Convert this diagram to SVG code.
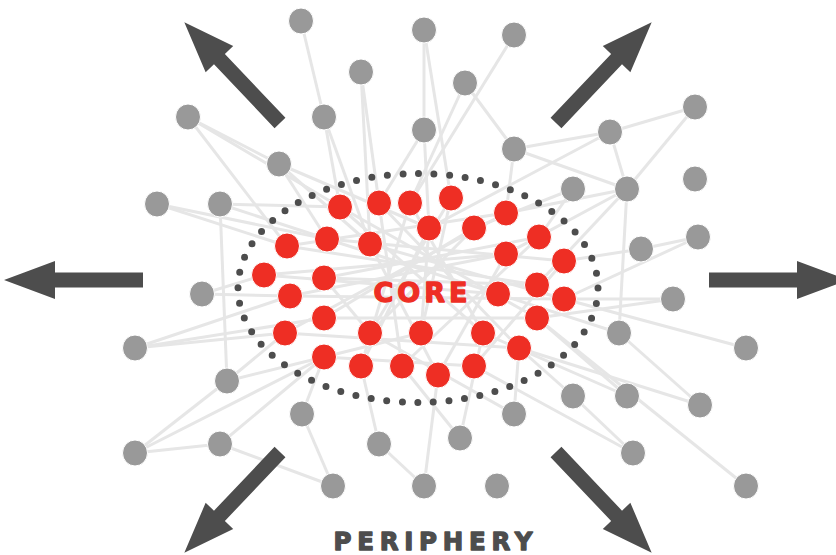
<svg xmlns="http://www.w3.org/2000/svg" xmlns:xlink="http://www.w3.org/1999/xlink" width="836" height="555" viewBox="0 0 836 555">
<style>
.e{stroke:#e6e6e6;stroke-width:3;fill:none}
.g{fill:#999999;stroke:#ffffff;stroke-width:1}
.r{fill:#ee2e24;stroke:#ffffff;stroke-width:1}
.arr{fill:#4d4d4d}
.lbl{font-family:"DejaVu Sans","Liberation Sans",Arial,sans-serif;font-weight:bold;stroke-width:1.3;stroke-linejoin:round}
</style>
<defs>
<path id="arrow" d="M0,-7.5 H88 V-19 L139,0 L88,19 V7.5 H0 Z"/>
</defs>
<rect width="836" height="555" fill="#ffffff"/>
<g id="connectors" class="e">
<line x1="301" y1="21" x2="324" y2="117"/>
<line x1="324" y1="117" x2="340" y2="207"/>
<line x1="324" y1="117" x2="370" y2="244"/>
<line x1="361" y1="72" x2="379" y2="203"/>
<line x1="361" y1="72" x2="370" y2="244"/>
<line x1="424" y1="30" x2="424" y2="130"/>
<line x1="424" y1="30" x2="451" y2="198"/>
<line x1="514" y1="35" x2="410" y2="203"/>
<line x1="465" y1="83" x2="410" y2="203"/>
<line x1="465" y1="83" x2="514" y2="149"/>
<line x1="424" y1="130" x2="429" y2="228"/>
<line x1="424" y1="130" x2="379" y2="203"/>
<line x1="514" y1="149" x2="610" y2="132"/>
<line x1="514" y1="149" x2="506" y2="213"/>
<line x1="610" y1="132" x2="695" y2="107"/>
<line x1="610" y1="132" x2="627" y2="189"/>
<line x1="695" y1="107" x2="627" y2="189"/>
<line x1="610" y1="132" x2="429" y2="228"/>
<line x1="627" y1="189" x2="514" y2="149"/>
<line x1="627" y1="189" x2="506" y2="254"/>
<line x1="627" y1="189" x2="619" y2="333"/>
<line x1="627" y1="189" x2="506" y2="213"/>
<line x1="627" y1="189" x2="537" y2="285"/>
<line x1="641" y1="249" x2="698" y2="237"/>
<line x1="641" y1="249" x2="564" y2="261"/>
<line x1="698" y1="237" x2="564" y2="299"/>
<line x1="573" y1="189" x2="539" y2="237"/>
<line x1="573" y1="189" x2="474" y2="228"/>
<line x1="188" y1="117" x2="279" y2="164"/>
<line x1="188" y1="117" x2="340" y2="207"/>
<line x1="188" y1="117" x2="287" y2="246"/>
<line x1="157" y1="204" x2="287" y2="246"/>
<line x1="157" y1="204" x2="327" y2="239"/>
<line x1="220" y1="204" x2="327" y2="239"/>
<line x1="220" y1="204" x2="340" y2="207"/>
<line x1="220" y1="204" x2="227" y2="381"/>
<line x1="279" y1="164" x2="327" y2="239"/>
<line x1="279" y1="164" x2="370" y2="244"/>
<line x1="279" y1="164" x2="429" y2="228"/>
<line x1="202" y1="294" x2="264" y2="275"/>
<line x1="202" y1="294" x2="290" y2="296"/>
<line x1="135" y1="348" x2="290" y2="296"/>
<line x1="135" y1="348" x2="324" y2="318"/>
<line x1="135" y1="348" x2="285" y2="333"/>
<line x1="227" y1="381" x2="324" y2="357"/>
<line x1="227" y1="381" x2="285" y2="333"/>
<line x1="135" y1="453" x2="227" y2="381"/>
<line x1="135" y1="453" x2="324" y2="357"/>
<line x1="135" y1="453" x2="220" y2="444"/>
<line x1="220" y1="444" x2="324" y2="357"/>
<line x1="220" y1="444" x2="333" y2="486"/>
<line x1="302" y1="414" x2="333" y2="486"/>
<line x1="302" y1="414" x2="324" y2="357"/>
<line x1="379" y1="444" x2="424" y2="486"/>
<line x1="379" y1="444" x2="361" y2="366"/>
<line x1="424" y1="486" x2="438" y2="375"/>
<line x1="460" y1="438" x2="402" y2="366"/>
<line x1="460" y1="438" x2="483" y2="333"/>
<line x1="514" y1="414" x2="519" y2="348"/>
<line x1="514" y1="414" x2="370" y2="333"/>
<line x1="673" y1="299" x2="564" y2="299"/>
<line x1="673" y1="299" x2="537" y2="318"/>
<line x1="619" y1="333" x2="700" y2="405"/>
<line x1="619" y1="333" x2="498" y2="294"/>
<line x1="537" y1="318" x2="746" y2="486"/>
<line x1="564" y1="299" x2="746" y2="348"/>
<line x1="700" y1="405" x2="519" y2="348"/>
<line x1="573" y1="396" x2="633" y2="453"/>
<line x1="474" y1="366" x2="633" y2="453"/>
<line x1="573" y1="396" x2="519" y2="348"/>
<line x1="627" y1="396" x2="537" y2="318"/>
<line x1="627" y1="396" x2="483" y2="333"/>
<line x1="287" y1="246" x2="506" y2="213"/>
<line x1="264" y1="275" x2="506" y2="254"/>
<line x1="340" y1="207" x2="483" y2="333"/>
<line x1="327" y1="239" x2="498" y2="294"/>
<line x1="324" y1="278" x2="537" y2="285"/>
<line x1="290" y1="296" x2="564" y2="299"/>
<line x1="324" y1="318" x2="537" y2="318"/>
<line x1="285" y1="333" x2="519" y2="348"/>
<line x1="324" y1="357" x2="474" y2="366"/>
<line x1="370" y1="244" x2="438" y2="375"/>
<line x1="379" y1="203" x2="402" y2="366"/>
<line x1="410" y1="203" x2="361" y2="366"/>
<line x1="451" y1="198" x2="370" y2="333"/>
<line x1="429" y1="228" x2="421" y2="333"/>
<line x1="474" y1="228" x2="324" y2="318"/>
<line x1="506" y1="213" x2="285" y2="333"/>
<line x1="539" y1="237" x2="324" y2="278"/>
<line x1="506" y1="254" x2="290" y2="296"/>
<line x1="564" y1="261" x2="327" y2="239"/>
<line x1="537" y1="285" x2="287" y2="246"/>
<line x1="498" y1="294" x2="264" y2="275"/>
<line x1="564" y1="299" x2="370" y2="244"/>
<line x1="537" y1="318" x2="340" y2="207"/>
<line x1="519" y1="348" x2="379" y2="203"/>
<line x1="483" y1="333" x2="410" y2="203"/>
<line x1="421" y1="333" x2="451" y2="198"/>
<line x1="370" y1="333" x2="474" y2="228"/>
<line x1="361" y1="366" x2="429" y2="228"/>
<line x1="402" y1="366" x2="539" y2="237"/>
<line x1="438" y1="375" x2="506" y2="254"/>
<line x1="474" y1="366" x2="564" y2="261"/>
<line x1="324" y1="357" x2="421" y2="333"/>
<line x1="324" y1="278" x2="370" y2="333"/>
</g>
<g id="arrows" class="arr">
<use xlink:href="#arrow" transform="translate(143,280) rotate(180)"/>
<use xlink:href="#arrow" transform="translate(709,280)"/>
<use xlink:href="#arrow" transform="translate(280,123) rotate(-133.5)"/>
<use xlink:href="#arrow" transform="translate(556,123) rotate(-46.5)"/>
<use xlink:href="#arrow" transform="translate(280,452) rotate(133.5)"/>
<use xlink:href="#arrow" transform="translate(556,452) rotate(46.5)"/>
</g>
<ellipse id="core-boundary" cx="418" cy="288" rx="180" ry="114.5" fill="none" stroke="#4d4d4d" stroke-width="7" stroke-linecap="round" stroke-dasharray="0 15.615"/>
<g id="g1"><ellipse class="g" cx="301" cy="21" rx="12.5" ry="13"/></g>
<g id="g2"><ellipse class="g" cx="424" cy="30" rx="12.5" ry="13"/></g>
<g id="g3"><ellipse class="g" cx="514" cy="35" rx="12.5" ry="13"/></g>
<g id="g4"><ellipse class="g" cx="361" cy="72" rx="12.5" ry="13"/></g>
<g id="g5"><ellipse class="g" cx="465" cy="83" rx="12.5" ry="13"/></g>
<g id="g6"><ellipse class="g" cx="188" cy="117" rx="12.5" ry="13"/></g>
<g id="g7"><ellipse class="g" cx="324" cy="117" rx="12.5" ry="13"/></g>
<g id="g8"><ellipse class="g" cx="424" cy="130" rx="12.5" ry="13"/></g>
<g id="g9"><ellipse class="g" cx="514" cy="149" rx="12.5" ry="13"/></g>
<g id="g10"><ellipse class="g" cx="279" cy="164" rx="12.5" ry="13"/></g>
<g id="g11"><ellipse class="g" cx="610" cy="132" rx="12.5" ry="13"/></g>
<g id="g12"><ellipse class="g" cx="695" cy="107" rx="12.5" ry="13"/></g>
<g id="g13"><ellipse class="g" cx="573" cy="189" rx="12.5" ry="13"/></g>
<g id="g14"><ellipse class="g" cx="627" cy="189" rx="12.5" ry="13"/></g>
<g id="g15"><ellipse class="g" cx="695" cy="179" rx="12.5" ry="13"/></g>
<g id="g16"><ellipse class="g" cx="641" cy="249" rx="12.5" ry="13"/></g>
<g id="g17"><ellipse class="g" cx="698" cy="237" rx="12.5" ry="13"/></g>
<g id="g18"><ellipse class="g" cx="157" cy="204" rx="12.5" ry="13"/></g>
<g id="g19"><ellipse class="g" cx="220" cy="204" rx="12.5" ry="13"/></g>
<g id="g20"><ellipse class="g" cx="202" cy="294" rx="12.5" ry="13"/></g>
<g id="g21"><ellipse class="g" cx="135" cy="348" rx="12.5" ry="13"/></g>
<g id="g22"><ellipse class="g" cx="227" cy="381" rx="12.5" ry="13"/></g>
<g id="g23"><ellipse class="g" cx="135" cy="453" rx="12.5" ry="13"/></g>
<g id="g24"><ellipse class="g" cx="220" cy="444" rx="12.5" ry="13"/></g>
<g id="g25"><ellipse class="g" cx="302" cy="414" rx="12.5" ry="13"/></g>
<g id="g26"><ellipse class="g" cx="379" cy="444" rx="12.5" ry="13"/></g>
<g id="g27"><ellipse class="g" cx="460" cy="438" rx="12.5" ry="13"/></g>
<g id="g28"><ellipse class="g" cx="514" cy="414" rx="12.5" ry="13"/></g>
<g id="g29"><ellipse class="g" cx="333" cy="486" rx="12.5" ry="13"/></g>
<g id="g30"><ellipse class="g" cx="424" cy="486" rx="12.5" ry="13"/></g>
<g id="g31"><ellipse class="g" cx="497" cy="486" rx="12.5" ry="13"/></g>
<g id="g32"><ellipse class="g" cx="673" cy="299" rx="12.5" ry="13"/></g>
<g id="g33"><ellipse class="g" cx="619" cy="333" rx="12.5" ry="13"/></g>
<g id="g34"><ellipse class="g" cx="746" cy="348" rx="12.5" ry="13"/></g>
<g id="g35"><ellipse class="g" cx="573" cy="396" rx="12.5" ry="13"/></g>
<g id="g36"><ellipse class="g" cx="627" cy="396" rx="12.5" ry="13"/></g>
<g id="g37"><ellipse class="g" cx="700" cy="405" rx="12.5" ry="13"/></g>
<g id="g38"><ellipse class="g" cx="633" cy="453" rx="12.5" ry="13"/></g>
<g id="g39"><ellipse class="g" cx="746" cy="486" rx="12.5" ry="13"/></g>
<g id="r1"><ellipse class="r" cx="340" cy="207" rx="12.5" ry="13"/></g>
<g id="r2"><ellipse class="r" cx="379" cy="203" rx="12.5" ry="13"/></g>
<g id="r3"><ellipse class="r" cx="410" cy="203" rx="12.5" ry="13"/></g>
<g id="r4"><ellipse class="r" cx="451" cy="198" rx="12.5" ry="13"/></g>
<g id="r5"><ellipse class="r" cx="429" cy="228" rx="12.5" ry="13"/></g>
<g id="r6"><ellipse class="r" cx="474" cy="228" rx="12.5" ry="13"/></g>
<g id="r7"><ellipse class="r" cx="506" cy="213" rx="12.5" ry="13"/></g>
<g id="r8"><ellipse class="r" cx="539" cy="237" rx="12.5" ry="13"/></g>
<g id="r9"><ellipse class="r" cx="506" cy="254" rx="12.5" ry="13"/></g>
<g id="r10"><ellipse class="r" cx="327" cy="239" rx="12.5" ry="13"/></g>
<g id="r11"><ellipse class="r" cx="370" cy="244" rx="12.5" ry="13"/></g>
<g id="r12"><ellipse class="r" cx="287" cy="246" rx="12.5" ry="13"/></g>
<g id="r13"><ellipse class="r" cx="264" cy="275" rx="12.5" ry="13"/></g>
<g id="r14"><ellipse class="r" cx="324" cy="278" rx="12.5" ry="13"/></g>
<g id="r15"><ellipse class="r" cx="290" cy="296" rx="12.5" ry="13"/></g>
<g id="r16"><ellipse class="r" cx="564" cy="261" rx="12.5" ry="13"/></g>
<g id="r17"><ellipse class="r" cx="537" cy="285" rx="12.5" ry="13"/></g>
<g id="r18"><ellipse class="r" cx="498" cy="294" rx="12.5" ry="13"/></g>
<g id="r19"><ellipse class="r" cx="564" cy="299" rx="12.5" ry="13"/></g>
<g id="r20"><ellipse class="r" cx="537" cy="318" rx="12.5" ry="13"/></g>
<g id="r21"><ellipse class="r" cx="324" cy="318" rx="12.5" ry="13"/></g>
<g id="r22"><ellipse class="r" cx="285" cy="333" rx="12.5" ry="13"/></g>
<g id="r23"><ellipse class="r" cx="370" cy="333" rx="12.5" ry="13"/></g>
<g id="r24"><ellipse class="r" cx="421" cy="333" rx="12.5" ry="13"/></g>
<g id="r25"><ellipse class="r" cx="483" cy="333" rx="12.5" ry="13"/></g>
<g id="r26"><ellipse class="r" cx="519" cy="348" rx="12.5" ry="13"/></g>
<g id="r27"><ellipse class="r" cx="324" cy="357" rx="12.5" ry="13"/></g>
<g id="r28"><ellipse class="r" cx="361" cy="366" rx="12.5" ry="13"/></g>
<g id="r29"><ellipse class="r" cx="402" cy="366" rx="12.5" ry="13"/></g>
<g id="r30"><ellipse class="r" cx="438" cy="375" rx="12.5" ry="13"/></g>
<g id="r31"><ellipse class="r" cx="474" cy="366" rx="12.5" ry="13"/></g>
<text class="lbl" x="373.5" y="301.5" font-size="27" fill="#ee2e24" stroke="#ee2e24" textLength="94" lengthAdjust="spacing">CORE</text>
<text class="lbl" x="333.5" y="550" font-size="24.5" fill="#4d4d4d" stroke="#4d4d4d" textLength="199" lengthAdjust="spacing">PERIPHERY</text>
</svg>
